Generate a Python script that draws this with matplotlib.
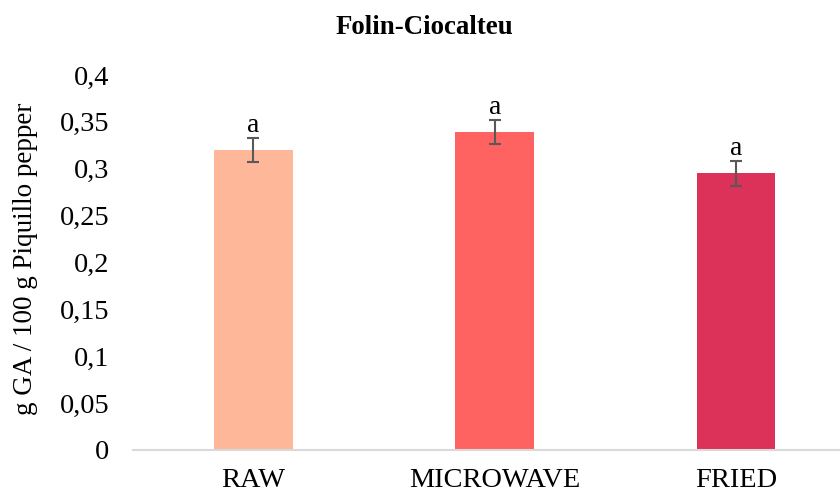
import numpy as np
import matplotlib.pyplot as plt
from matplotlib.ticker import FuncFormatter, MultipleLocator

categories = ['RAW', 'MICROWAVE', 'FRIED']
values = [0.320, 0.339, 0.295]
errors = [0.013, 0.013, 0.013]
letters = ['a', 'a', 'a']
colors = ['#FFB799', '#FF6361', '#DC3158']

plt.rcParams['font.family'] = ['Liberation Serif', 'DejaVu Serif']

fig = plt.figure(figsize=(8.4, 4.92), dpi=100)
ax = fig.add_axes([0.158, 0.0854, 0.862, 0.7622])

x = np.arange(len(categories))
ax.bar(x, values, width=0.326, color=colors, zorder=2)
ax.errorbar(x, values, yerr=errors, fmt='none', ecolor='#595959',
            elinewidth=1.5, capsize=4.5, capthick=1.5, zorder=3)

# significance letters just above each error bar
for xi, v, e, t in zip(x, values, errors, letters):
    ax.annotate(t, (xi, v + e), xytext=(0, 4.5), textcoords='offset points',
                ha='center', va='baseline', fontsize=20)

ax.set_xlim(-0.5, 2.5)
ax.set_ylim(0, 0.4)
ax.yaxis.set_major_locator(MultipleLocator(0.05))


def comma_fmt(v, pos):
    s = f'{v:.2f}'.rstrip('0').rstrip('.')
    return s.replace('.', ',')


ax.yaxis.set_major_formatter(FuncFormatter(comma_fmt))
ax.set_xticks(x)
ax.set_xticklabels(categories)
ax.tick_params(axis='both', length=0, labelsize=20.4)
ax.tick_params(axis='y', pad=17)
ax.tick_params(axis='x', pad=13)

for side in ['top', 'right', 'left']:
    ax.spines[side].set_visible(False)
ax.spines['bottom'].set_color('#D9D9D9')
ax.spines['bottom'].set_linewidth(1.5)

ax.set_ylabel('g GA / 100 g Piquillo pepper', fontsize=19.5)
ax.yaxis.set_label_coords(-0.131, 0.51)
fig.text(0.505, 0.945, 'Folin-Ciocalteu', ha='center', va='center',
         fontsize=19.4, fontweight='bold')

fig.savefig('out.png', dpi=100, facecolor='white')
